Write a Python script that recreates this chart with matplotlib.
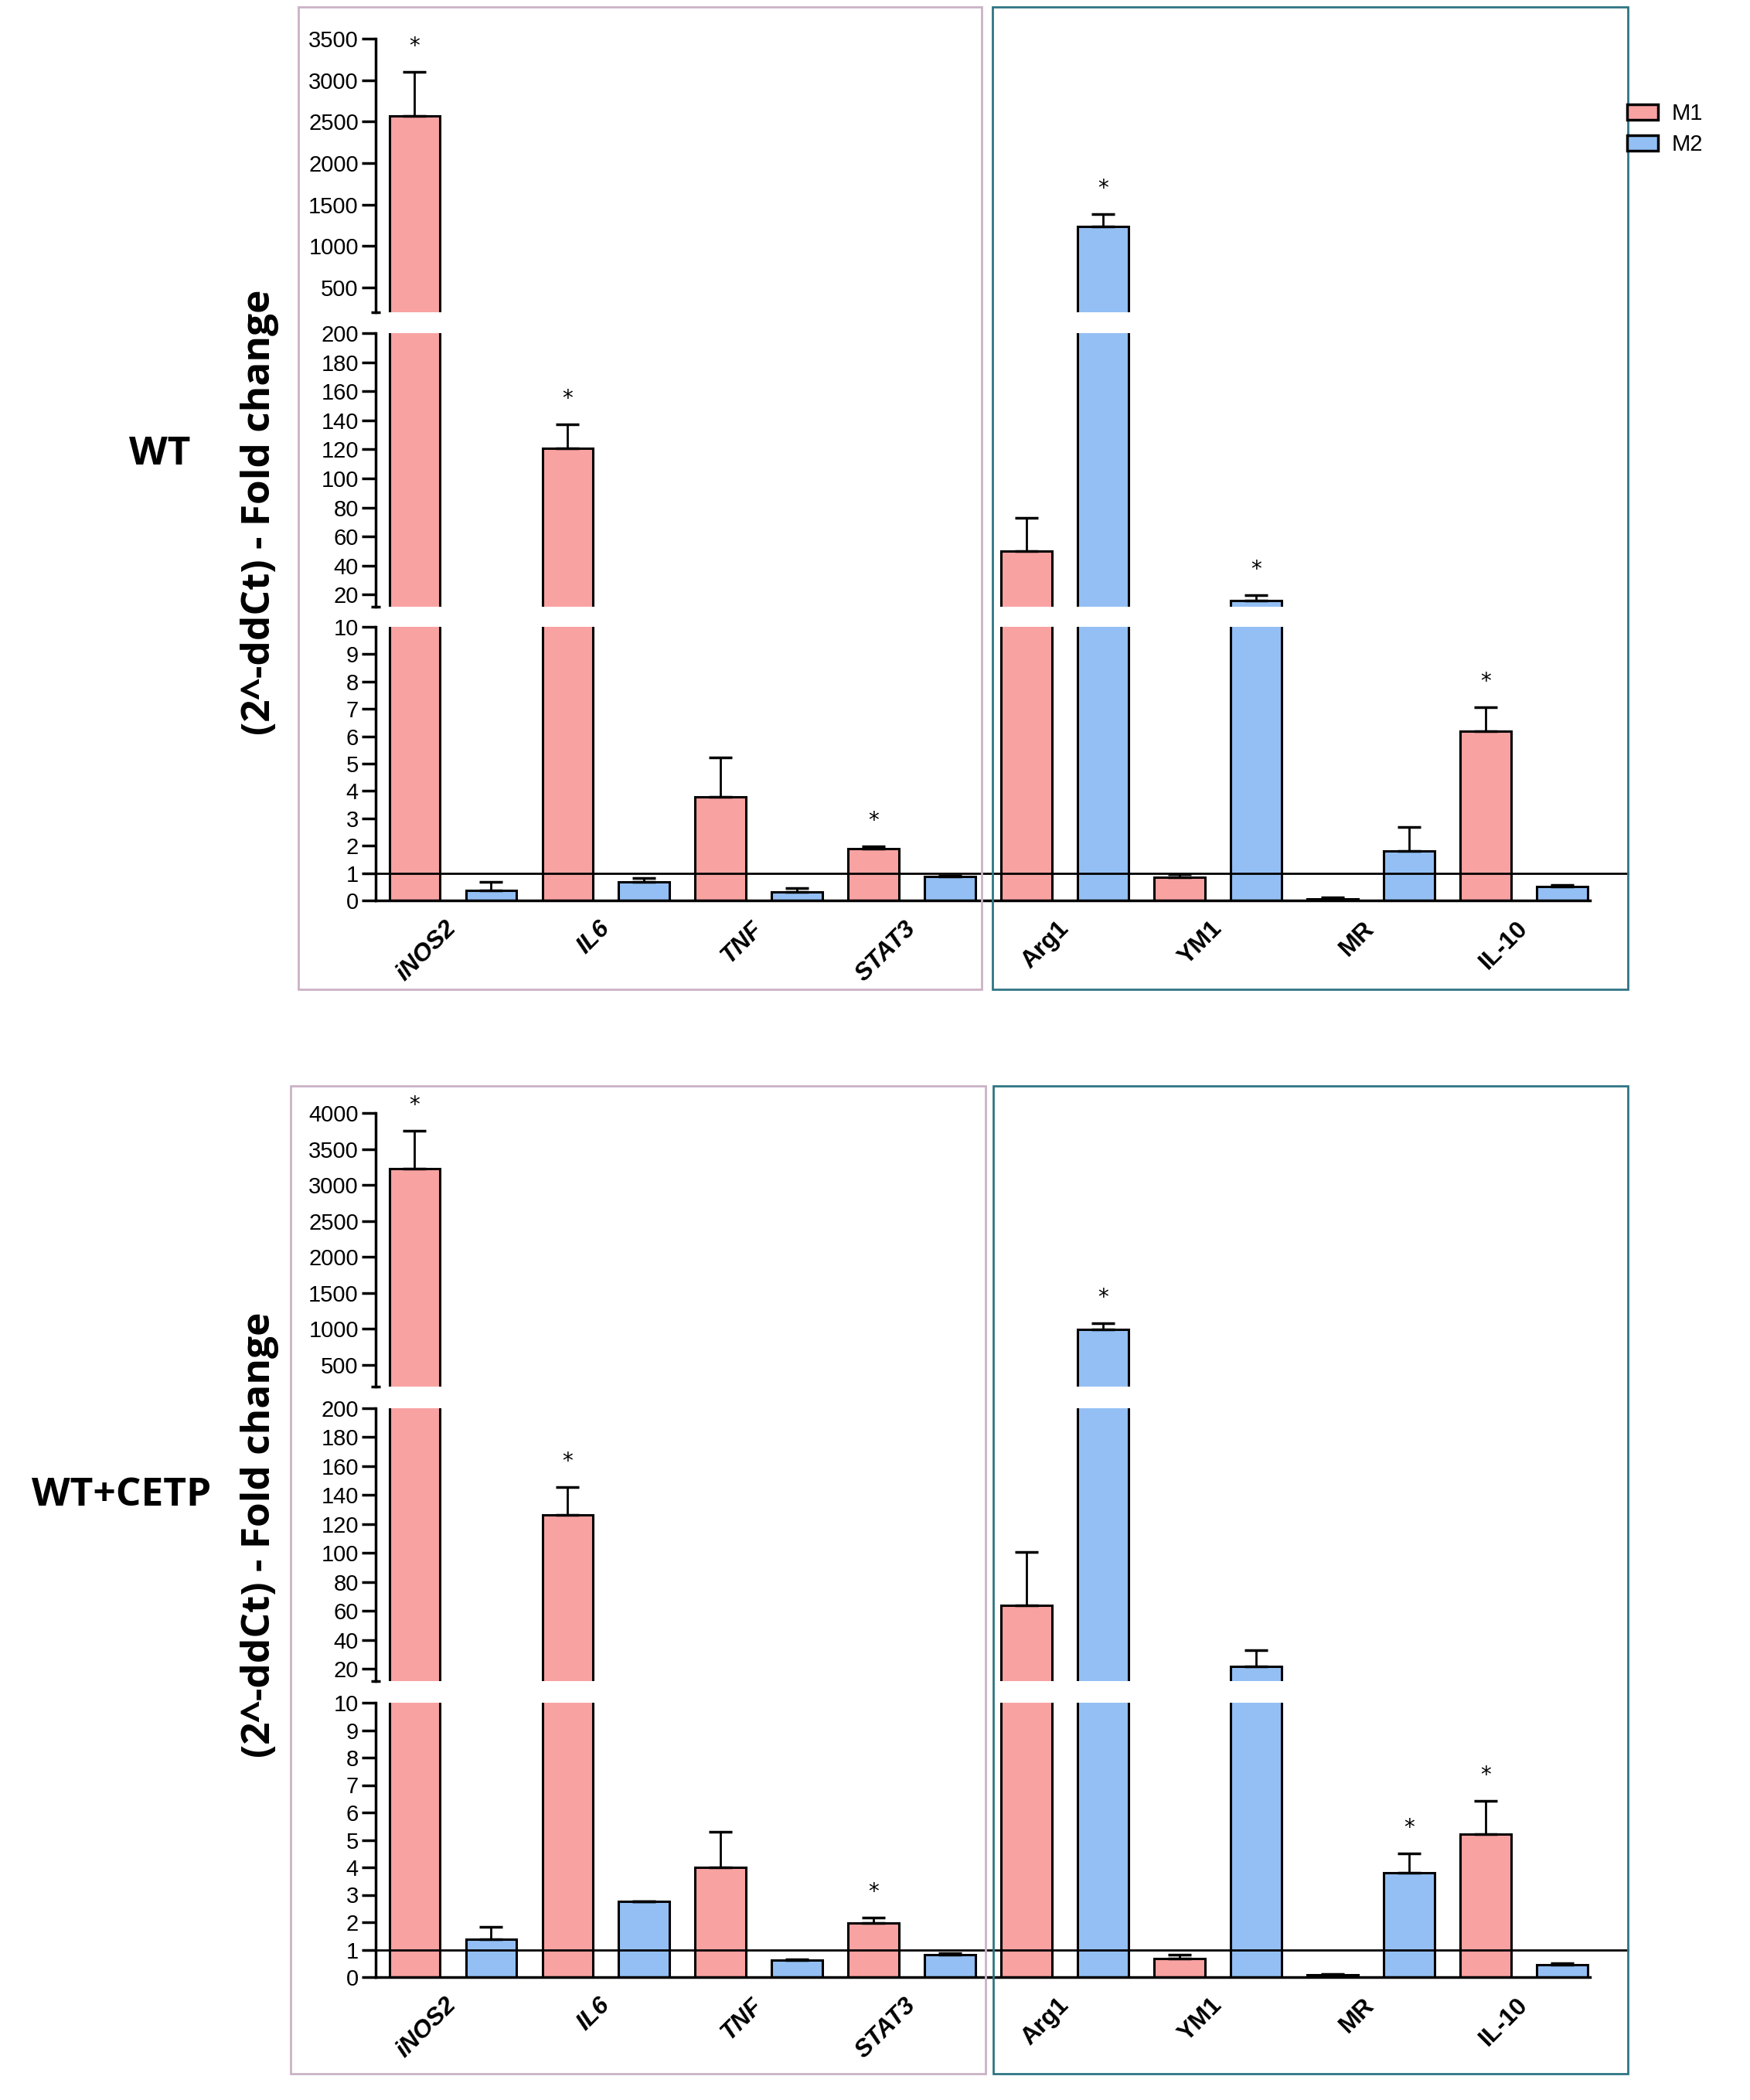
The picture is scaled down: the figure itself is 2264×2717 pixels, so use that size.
import matplotlib
matplotlib.use("Agg")
import matplotlib.pyplot as plt
import numpy as np
from matplotlib.patches import Rectangle, Patch

# ---- data ----
genes = ["iNOS2", "IL6", "TNF", "STAT3", "Arg1", "YM1", "MR", "IL-10"]

wt_m1 = [2570, 121, 3.78, 1.90, 50, 0.85, 0.06, 6.2]
wt_m1_err = [530, 16, 1.44, 0.07, 23, 0.10, 0.04, 0.87]
wt_m2 = [0.37, 0.67, 0.31, 0.88, 1237, 15.7, 1.82, 0.52]
wt_m2_err = [0.30, 0.15, 0.14, 0.03, 148, 4.0, 0.87, 0.05]
wt_m1_sig = [1, 1, 0, 1, 0, 0, 0, 1]
wt_m2_sig = [0, 0, 0, 0, 1, 1, 0, 0]

cetp_m1 = [3231, 126.6, 4.0, 1.96, 64, 0.67, 0.08, 5.22]
cetp_m1_err = [517, 19, 1.3, 0.21, 37, 0.16, 0.03, 1.19]
cetp_m2 = [1.38, 2.75, 0.61, 0.82, 989, 21.8, 3.79, 0.45]
cetp_m2_err = [0.45, 0.0, 0.05, 0.05, 92, 11.2, 0.71, 0.05]
cetp_m1_sig = [1, 1, 0, 1, 0, 0, 0, 1]
cetp_m2_sig = [0, 0, 0, 0, 1, 0, 1, 0]

PINK = "#F9A2A2"
BLUE = "#93BFF4"
W, H = 2264, 2717

fig = plt.figure(figsize=(W / 100, H / 100), dpi=100)


def axes_px(x0, y0, x1, y1):
    return fig.add_axes([x0 / W, 1 - y1 / H, (x1 - x0) / W, (y1 - y0) / H])


def box_px(x0, y0, x1, y1, color):
    fig.patches.append(Rectangle((x0 / W, 1 - y1 / H), (x1 - x0) / W, (y1 - y0) / H,
                                 transform=fig.transFigure, fill=False,
                                 ec=color, lw=2))


def draw_panel(segs, m1, m1_err, m2, m2_err, m1_sig, m2_sig):
    x = np.arange(len(genes))
    axes = []
    for k, (top, bot, lo, hi, ticks) in enumerate(segs):
        ax = axes_px(486, top, 2057, bot)
        ax.set_xlim(-0.505, 7.43)
        ax.set_ylim(lo, hi)
        ax.patch.set_visible(False)
        for s in ["top", "right"]:
            ax.spines[s].set_visible(False)
        ax.spines["left"].set_linewidth(2.5)
        last = k == len(segs) - 1
        if not last:
            ax.spines["bottom"].set_visible(False)
        else:
            ax.spines["bottom"].set_linewidth(2.5)

        ax.bar(x - 0.25, m1, width=0.333, color=PINK, edgecolor="black", lw=2.2, zorder=2)
        ax.bar(x + 0.25, m2, width=0.333, color=BLUE, edgecolor="black", lw=2.2, zorder=2)
        ax.errorbar(x - 0.25, m1, yerr=[np.zeros(len(m1)), m1_err], fmt="none",
                    ecolor="black", elinewidth=2, capsize=10.5, capthick=2.5, zorder=3)
        ax.errorbar(x + 0.25, m2, yerr=[np.zeros(len(m2)), m2_err], fmt="none",
                    ecolor="black", elinewidth=2, capsize=10.5, capthick=2.5, zorder=3)

        # significance stars, put in the segment holding the error-bar top
        for vals, errs, sig, off in [(m1, m1_err, m1_sig, -0.25), (m2, m2_err, m2_sig, 0.25)]:
            for i in range(len(genes)):
                if not sig[i]:
                    continue
                t = vals[i] + errs[i]
                if lo < t <= hi or (k == 0 and t > hi):
                    ax.annotate("*", (i + off, t), xytext=(0, 18), textcoords="offset points",
                                ha="center", va="baseline", fontsize=20,
                                annotation_clip=False)

        ax.set_yticks(ticks)
        ax.set_yticklabels([str(t) for t in ticks], family="Liberation Sans", fontsize=21)
        ax.tick_params(axis="y", which="major", direction="out", length=13, width=2.5, pad=3)
        ends = []
        if k > 0:
            ends.append(hi)
        if not last:
            ends.append(lo)
        ax.set_yticks(ends, minor=True)
        ax.tick_params(axis="y", which="minor", direction="inout", length=9, width=2.5)

        if last:
            ax.plot([-0.505, 7.68], [1, 1], color="black", lw=2, zorder=5, clip_on=False)
            ax.set_xticks(x)
            ax.set_xticklabels(genes)
            ax.tick_params(axis="x", length=0, pad=23)
            for i, lab in enumerate(ax.get_xticklabels()):
                lab.set_rotation(45)
                lab.set_rotation_mode("anchor")
                lab.set_ha("right")
                lab.set_va("center")
                lab.set_family("Liberation Sans")
                lab.set_fontsize(23)
                lab.set_fontweight("bold")
                if i < 4:
                    lab.set_style("italic")
        else:
            ax.set_xticks([])
        axes.append(ax)
    return axes


top_segs = [
    (50, 404, 200, 3500, list(range(500, 3501, 500))),
    (431, 785, 11.7, 200, list(range(20, 201, 20))),
    (811, 1165, 0, 10, list(range(0, 11))),
]
bot_segs = [
    (1440, 1794, 200, 4000, list(range(500, 4001, 500))),
    (1822, 2175, 11.7, 200, list(range(20, 201, 20))),
    (2203, 2558, 0, 10, list(range(0, 11))),
]

draw_panel(top_segs, wt_m1, wt_m1_err, wt_m2, wt_m2_err, wt_m1_sig, wt_m2_sig)
draw_panel(bot_segs, cetp_m1, cetp_m1_err, cetp_m2, cetp_m2_err, cetp_m1_sig, cetp_m2_sig)

# panel frames
box_px(386, 9, 1270, 1280, "#CBB2C6")
box_px(1284, 9, 2106, 1280, "#2F7584")
box_px(376, 1405, 1275, 2683, "#CBB2C6")
box_px(1285, 1405, 2106, 2683, "#2F7584")

# axis titles and group names
ylab = "(2^-ddCt) - Fold change"
fig.text(336 / W, 1 - 663 / H, ylab, rotation=90, ha="center", va="center",
         family="Open Sans", fontweight="bold", fontsize=37)
fig.text(336 / W, 1 - 1986 / H, ylab, rotation=90, ha="center", va="center",
         family="Open Sans", fontweight="bold", fontsize=37)
fig.text(207 / W, 1 - 588 / H, "WT", ha="center", va="center",
         family="Open Sans", fontweight="bold", fontsize=37)
fig.text(157 / W, 1 - 1935 / H, "WT+CETP", ha="center", va="center",
         family="Open Sans", fontweight="bold", fontsize=37)

handles = [Patch(facecolor=PINK, edgecolor="black", lw=2.5),
           Patch(facecolor=BLUE, edgecolor="black", lw=2.5)]
fig.legend(handles, ["M1", "M2"], loc="upper left",
           bbox_to_anchor=(2105 / W, 1 - 133 / H), frameon=False,
           prop={"family": "Liberation Sans", "size": 21},
           handlelength=1.38, handleheight=0.7, labelspacing=0.42,
           handletextpad=0.6, borderpad=0, borderaxespad=0)

fig.savefig("out.png", dpi=100, facecolor="white")
